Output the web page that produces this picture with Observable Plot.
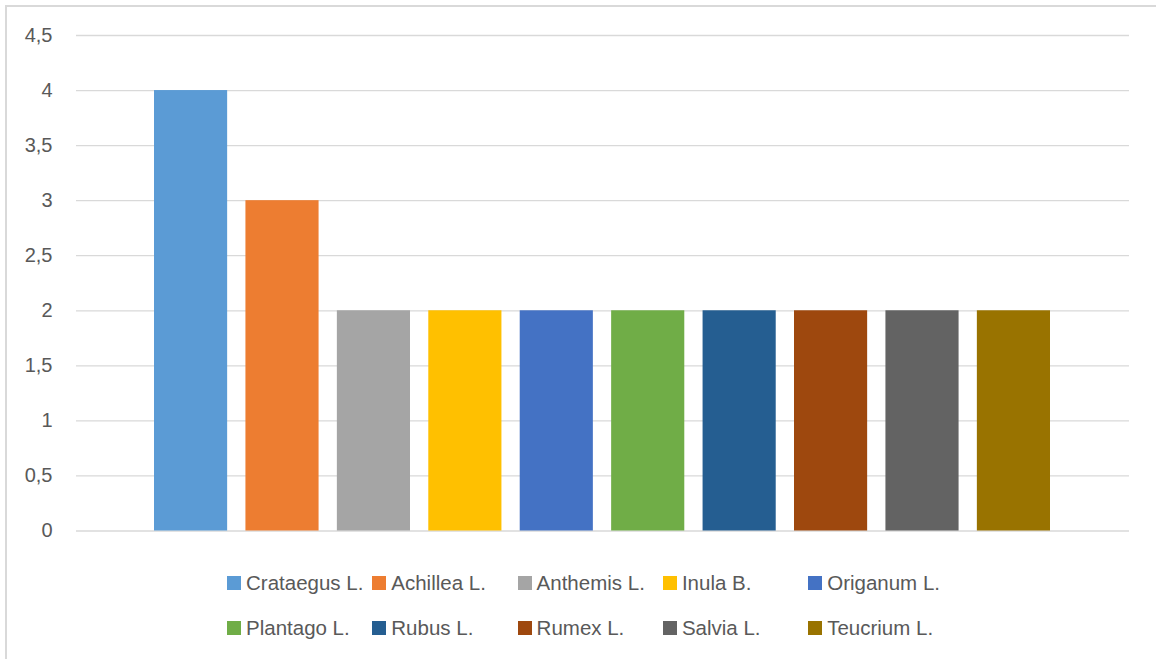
<!DOCTYPE html>
<html>
<head>
<meta charset="utf-8">
<script src="https://cdn.jsdelivr.net/npm/d3@7"></script>
<script src="https://cdn.jsdelivr.net/npm/@observablehq/plot@0.6"></script>
<style>
  html, body { margin: 0; padding: 0; background: #fff; overflow: hidden; }
  body { width: 1156px; height: 659px; position: relative; font-family: "Liberation Sans", Arial, sans-serif; }
  #frame { position: absolute; left: 5px; top: 5px; width: 1170px; height: 680px; border: 2px solid #d9d9d9; box-sizing: border-box; }
  #chart { position: absolute; left: 0; top: 0; }
  #legend { position: absolute; left: 227px; top: 574px; display: grid; grid-template-columns: repeat(5, 145.3px); row-gap: 27px; }
  .item { display: flex; align-items: center; font-size: 20.5px; color: #595959; white-space: nowrap; height: 18px; }
  .sw { width: 14px; height: 14px; margin-right: 5px; flex: none; }
</style>
</head>
<body>
<div id="frame"></div>
<div id="chart"></div>
<div id="legend"></div>
<script>
const genera = ["Crataegus L.", "Achillea L.", "Anthemis L.", "Inula B.", "Origanum L.", "Plantago L.", "Rubus L.", "Rumex L.", "Salvia L.", "Teucrium L."];
const counts = [4, 3, 2, 2, 2, 2, 2, 2, 2, 2];
const colors = ["#5B9BD5", "#ED7D31", "#A5A5A5", "#FFC000", "#4472C4", "#70AD47", "#255E91", "#9E480E", "#636363", "#997300"];
const yTicks = [0, 0.5, 1, 1.5, 2, 2.5, 3, 3.5, 4, 4.5];

const data = genera.map((g, i) => ({genus: g, value: counts[i]}));
const fmt = d => String(d).replace(".", ",");

const plot = Plot.plot({
  width: 1156,
  height: 560,
  marginLeft: 76,
  marginRight: 27,
  marginTop: 35,
  marginBottom: 29,
  style: {fontFamily: "'Liberation Sans', Arial, sans-serif", fontSize: "20px", color: "#595959", background: "transparent"},
  x: {domain: genera, range: [154, 1050], paddingInner: 0.2, paddingOuter: 0, round: false, axis: null},
  y: {domain: [0, 4.5], range: [530.5, 35], label: null},
  color: {domain: genera, range: colors},
  marks: [
    Plot.ruleY(yTicks, {stroke: "#d9d9d9", strokeWidth: 1.3}),
    Plot.barY(data, {x: "genus", y: "value", fill: "genus"}),
    Plot.axisY({ticks: yTicks, tickSize: 0, tickPadding: 24, label: null, tickFormat: fmt, fill: "#595959", fontSize: 20})
  ]
});
document.getElementById("chart").appendChild(plot);

const legend = document.getElementById("legend");
genera.forEach((g, i) => {
  const item = document.createElement("div");
  item.className = "item";
  const sw = document.createElement("span");
  sw.className = "sw";
  sw.style.background = colors[i];
  const t = document.createElement("span");
  t.textContent = g;
  item.appendChild(sw);
  item.appendChild(t);
  legend.appendChild(item);
});
</script>
</body>
</html>
